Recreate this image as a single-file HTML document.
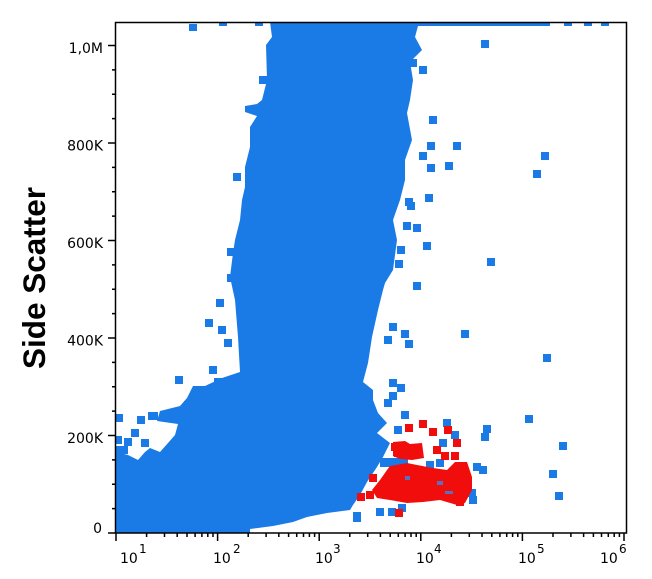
<!DOCTYPE html>
<html><head><meta charset="utf-8"><style>
html,body{margin:0;padding:0;background:#fff}
svg{display:block}
</style></head><body>
<svg width="652" height="579" viewBox="0 0 652 579" xmlns="http://www.w3.org/2000/svg">
<defs><clipPath id="pa"><rect x="115.5" y="22.5" width="511" height="510.5"/></clipPath></defs>
<rect width="652" height="579" fill="#fff"/>
<g clip-path="url(#pa)">
<g fill="#1b7be6">
<path d="M270,22 L272,37 L266,45 L267,80 L262,100 L257,104 L245,106 L245,112 L257,116 L250,127 L250,147 L245,167 L245,187 L242,200 L240,220 L235,240 L233,253 L230,277 L235,300 L238,337 L240,372 L222,378 L205,386 L193,386 L187,398 L180,406 L160,411 L157,421 L178,424 L175,435 L168,443 L160,452 L150,448 L145,452 L138,460 L128,455 L116,452 L116,533 L250,533 L250,529 L273,526 L293,522 L307,517 L327,513 L350,510 L353,505 L360,495 L367,482 L377,467 L383,457 L390,443 L377,433 L387,423 L378,413 L373,400 L373,390 L363,382 L368,363 L372,337 L378,310 L383,290 L385,283 L393,270 L397,240 L393,220 L400,200 L405,180 L405,160 L412,140 L407,113 L410,100 L413,80 L410,62 L422,50 L415,37 L418,26 L550,26 L550,22 Z"/>
<rect x="380" y="458" width="28" height="9"/>
<rect x="353" y="512" width="8" height="10"/>
<rect x="189" y="24" width="8" height="7"/>
<rect x="219" y="21" width="8" height="5"/>
<rect x="255" y="21" width="8" height="5"/>
<rect x="564" y="21" width="8" height="5"/>
<rect x="584" y="21" width="8" height="5"/>
<rect x="601" y="21" width="8" height="5"/>
<rect x="481" y="40" width="8" height="8"/>
<rect x="409" y="59" width="8" height="8"/>
<rect x="419" y="66" width="8" height="8"/>
<rect x="429" y="116" width="8" height="8"/>
<rect x="427" y="142" width="8" height="8"/>
<rect x="453" y="142" width="8" height="8"/>
<rect x="419" y="152" width="8" height="8"/>
<rect x="427" y="164" width="8" height="8"/>
<rect x="445" y="162" width="8" height="8"/>
<rect x="541" y="152" width="8" height="8"/>
<rect x="533" y="170" width="8" height="8"/>
<rect x="425" y="194" width="8" height="8"/>
<rect x="405" y="198" width="8" height="8"/>
<rect x="407" y="202" width="8" height="8"/>
<rect x="403" y="222" width="8" height="8"/>
<rect x="413" y="224" width="8" height="8"/>
<rect x="397" y="246" width="8" height="8"/>
<rect x="423" y="242" width="8" height="8"/>
<rect x="395" y="260" width="8" height="8"/>
<rect x="487" y="258" width="8" height="8"/>
<rect x="413" y="282" width="8" height="8"/>
<rect x="389" y="323" width="8" height="8"/>
<rect x="401" y="330" width="8" height="8"/>
<rect x="384" y="336" width="8" height="8"/>
<rect x="405" y="340" width="8" height="8"/>
<rect x="461" y="330" width="8" height="8"/>
<rect x="543" y="354" width="8" height="8"/>
<rect x="389" y="379" width="8" height="8"/>
<rect x="397" y="384" width="8" height="8"/>
<rect x="389" y="392" width="8" height="8"/>
<rect x="384" y="399" width="8" height="8"/>
<rect x="525" y="415" width="8" height="8"/>
<rect x="401" y="411" width="8" height="8"/>
<rect x="483" y="425" width="8" height="8"/>
<rect x="443" y="419" width="8" height="8"/>
<rect x="481" y="433" width="8" height="8"/>
<rect x="394" y="426" width="8" height="8"/>
<rect x="451" y="431" width="8" height="8"/>
<rect x="439" y="439" width="8" height="8"/>
<rect x="436" y="459" width="8" height="8"/>
<rect x="426" y="461" width="8" height="8"/>
<rect x="473" y="463" width="8" height="8"/>
<rect x="479" y="466" width="8" height="8"/>
<rect x="468" y="489" width="8" height="8"/>
<rect x="469" y="496" width="8" height="8"/>
<rect x="376" y="508" width="8" height="8"/>
<rect x="388" y="508" width="8" height="8"/>
<rect x="398" y="504" width="8" height="8"/>
<rect x="559" y="442" width="8" height="8"/>
<rect x="549" y="470" width="8" height="8"/>
<rect x="555" y="492" width="8" height="8"/>
<rect x="259" y="76" width="8" height="8"/>
<rect x="233" y="173" width="8" height="8"/>
<rect x="227" y="248" width="8" height="8"/>
<rect x="227" y="274" width="8" height="8"/>
<rect x="216" y="299" width="8" height="8"/>
<rect x="205" y="319" width="8" height="8"/>
<rect x="218" y="326" width="8" height="8"/>
<rect x="224" y="339" width="8" height="8"/>
<rect x="209" y="366" width="8" height="8"/>
<rect x="175" y="376" width="8" height="8"/>
<rect x="214" y="378" width="8" height="8"/>
<rect x="184" y="401" width="8" height="8"/>
<rect x="115" y="414" width="8" height="8"/>
<rect x="137" y="416" width="8" height="8"/>
<rect x="131" y="429" width="8" height="8"/>
<rect x="114" y="436" width="8" height="8"/>
<rect x="124" y="438" width="8" height="8"/>
<rect x="141" y="439" width="8" height="8"/>
<rect x="148" y="412" width="10" height="8"/>
<rect x="116" y="446" width="12" height="8"/>
</g>
<g fill="#f20d0d">
<path d="M390,466 L407,463 L417,465 L433,468 L447,470 L455,462 L467,462 L472,477 L472,490 L465,503 L457,505 L440,500 L423,502 L407,503 L390,500 L377,498 L372,490 L380,480 L387,470 Z"/>
<path d="M393,442 L405,441 L410,444 L422,443 L424,458 L412,460 L400,459 L393,456 Z"/>
<rect x="419" y="420" width="8" height="8"/>
<rect x="405" y="424" width="8" height="8"/>
<rect x="429" y="428" width="8" height="8"/>
<rect x="444" y="426" width="8" height="8"/>
<rect x="453" y="439" width="8" height="8"/>
<rect x="433" y="446" width="8" height="8"/>
<rect x="441" y="452" width="8" height="8"/>
<rect x="451" y="452" width="8" height="8"/>
<rect x="458" y="463" width="8" height="8"/>
<rect x="391" y="443" width="8" height="8"/>
<rect x="394" y="449" width="8" height="8"/>
<rect x="369" y="474" width="8" height="8"/>
<rect x="357" y="493" width="8" height="8"/>
<rect x="366" y="491" width="8" height="8"/>
<rect x="395" y="509" width="8" height="8"/>
<rect x="456" y="498" width="8" height="8"/>
</g>
<g fill="#5a6fc0">
<rect x="405" y="476" width="5" height="4"/>
<rect x="437" y="481" width="6" height="4"/>
<rect x="445" y="491" width="8" height="3"/>
</g>
</g>
<rect x="115.5" y="22.5" width="511" height="510.5" fill="none" stroke="#000" stroke-width="1.5"/>
<path stroke="#000" stroke-width="1.5" fill="none" d="M108,533 H115 M112,508.6 H115 M112,484.3 H115 M112,459.9 H115 M108,435.5 H115 M112,411.1 H115 M112,386.8 H115 M112,362.4 H115 M108,338 H115 M112,313.6 H115 M112,289.3 H115 M112,264.9 H115 M108,240.5 H115 M112,216.1 H115 M112,191.8 H115 M112,167.4 H115 M108,143 H115 M112,118.6 H115 M112,94.3 H115 M112,69.9 H115 M108,45.5 H115"/>
<path stroke="#000" stroke-width="1.5" fill="none" d="M116,533 V541 M217.6,533 V541 M319.2,533 V541 M420.8,533 V541 M522.4,533 V541 M624,533 V541 M146.6,533 V537 M164.5,533 V537 M177.2,533 V537 M187,533 V537 M195.1,533 V537 M201.9,533 V537 M207.8,533 V537 M213,533 V537 M248.2,533 V537 M266.1,533 V537 M278.8,533 V537 M288.6,533 V537 M296.7,533 V537 M303.5,533 V537 M309.4,533 V537 M314.6,533 V537 M349.8,533 V537 M367.7,533 V537 M380.4,533 V537 M390.2,533 V537 M398.3,533 V537 M405.1,533 V537 M411,533 V537 M416.2,533 V537 M451.4,533 V537 M469.3,533 V537 M482,533 V537 M491.8,533 V537 M499.9,533 V537 M506.7,533 V537 M512.6,533 V537 M517.8,533 V537 M553,533 V537 M570.9,533 V537 M583.6,533 V537 M593.4,533 V537 M601.5,533 V537 M608.3,533 V537 M614.2,533 V537 M619.4,533 V537"/>
<g font-family="'DejaVu Sans','Liberation Sans',sans-serif" font-size="14" fill="#000" text-anchor="end">
<text x="103" y="53">1,0M</text>
<text x="103" y="150.5">800K</text>
<text x="103" y="248">600K</text>
<text x="103" y="345.5">400K</text>
<text x="103" y="443">200K</text>
<text x="102" y="533">0</text>
</g>
<g font-family="'DejaVu Sans','Liberation Sans',sans-serif" fill="#000">
<g font-size="14">
<text x="120" y="563">10</text>
<text x="213" y="563">10</text>
<text x="315" y="563">10</text>
<text x="416" y="563">10</text>
<text x="518" y="563">10</text>
<text x="600" y="563">10</text>
</g>
<g font-size="12">
<text x="139" y="553">1</text>
<text x="233" y="553">2</text>
<text x="333" y="553">3</text>
<text x="434" y="553">4</text>
<text x="537" y="553">5</text>
<text x="619" y="553">6</text>
</g>
</g>
<text transform="translate(45,278) rotate(-90)" text-anchor="middle" font-family="'Liberation Sans',Arial,sans-serif" font-weight="bold" font-size="31.5" fill="#000">Side Scatter</text>
</svg>
</body></html>
